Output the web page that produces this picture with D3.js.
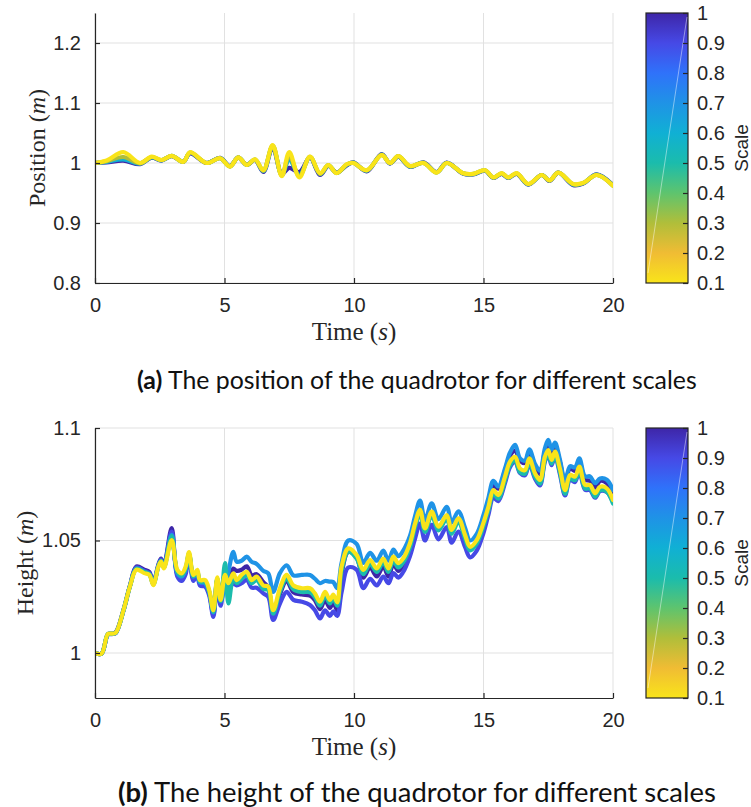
<!DOCTYPE html>
<html>
<head>
<meta charset="utf-8">
<script src="https://cdn.jsdelivr.net/npm/d3@7"></script>
<style>
body { margin: 0; background: #fff; }
svg { display: block; }
</style>
</head>
<body>
<svg width="751" height="807"></svg>
<script>
// ---- data -------------------------------------------------------------
var timeTicks = [0, 5, 10, 15, 20];
var posTicks = [0.8, 0.9, 1, 1.1, 1.2];
var heightTicks = [1, 1.05, 1.1];
var cbTicks = [0.1, 0.2, 0.3, 0.4, 0.5, 0.6, 0.7, 0.8, 0.9, 1];

// colour of each scale (parula, reversed)
var scaleStops = [1, 0.9, 0.8, 0.7, 0.6, 0.5, 0.4, 0.3, 0.2, 0.1];
var scaleColors = ["#3e26a8", "#4649e6", "#2f72fa", "#1f93e6", "#10b0d4",
                   "#1bbcac", "#5ec46e", "#b0be3a", "#f0bc34", "#f9e41a"];

// (a) position, sampled at its turning points
var tA = [0, 0.45, 1.09, 1.74, 2.19, 2.57, 2.96, 3.41, 3.67, 4.31,
          4.83, 5.21, 5.53, 5.86, 6.18, 6.5, 6.86, 7.21, 7.5, 7.89,
          8.3, 8.69, 9.01, 9.33, 9.72, 9.97, 10.49, 11.07, 11.39, 11.71,
          12.16, 12.68, 13.19, 13.58, 14.22, 14.6, 15.06, 15.38, 15.7, 15.96,
          16.28, 16.73, 17.25, 17.55, 17.89, 18.47, 18.86, 19.37, 20];
var pos10 = [1.000, 1.001, 1.004, 0.998, 1.009, 1.004, 1.0115, 1.002, 1.016, 1.000,
             1.0085, 0.995, 1.009, 0.997, 1.005, 0.985, 1.026, 0.982, 0.992, 0.985,
             1.009, 0.980, 0.995, 0.984, 0.996, 1.001, 0.986, 1.015, 0.999, 1.0105,
             0.9935, 1.001, 0.985, 1.0005, 0.982, 0.981, 0.987, 0.975, 0.982, 0.975,
             0.982, 0.964, 0.980, 0.970, 0.984, 0.963, 0.966, 0.981, 0.963];
var pos06 = [1.000, 1.002, 1.006, 0.999, 1.0095, 1.0045, 1.0118, 1.002, 1.017, 1.000,
             1.0082, 0.9945, 1.0093, 0.9968, 1.0055, 0.9865, 1.028, 0.980, 1.005, 0.980,
             1.0098, 0.9815, 0.996, 0.9835, 0.997, 1.0005, 0.987, 1.014, 0.9995, 1.011,
             0.994, 1.0005, 0.9845, 1.0002, 0.9825, 0.9815, 0.9875, 0.9755, 0.9825, 0.9755,
             0.9825, 0.9645, 0.980, 0.9705, 0.984, 0.964, 0.9665, 0.9805, 0.9625];
var pos03 = [1.000, 1.003, 1.010, 0.9995, 1.010, 1.0048, 1.012, 1.002, 1.0175, 1.000,
             1.008, 0.994, 1.0094, 0.9968, 1.0058, 0.9872, 1.029, 0.979, 1.012, 0.978,
             1.0102, 0.982, 0.9964, 0.9833, 0.9975, 1.0002, 0.9875, 1.0135, 0.9998, 1.0114,
             0.9945, 1.0002, 0.9842, 1.000, 0.9828, 0.9818, 0.9878, 0.9758, 0.9828, 0.9758,
             0.9828, 0.9648, 0.980, 0.9708, 0.984, 0.9645, 0.9668, 0.9802, 0.9622];
var pos01 = [1.000, 1.004, 1.018, 1.000, 1.0105, 1.005, 1.012, 1.002, 1.018, 1.000,
             1.008, 0.994, 1.0095, 0.9967, 1.006, 0.988, 1.030, 0.978, 1.018, 0.976,
             1.0105, 0.983, 0.9967, 0.983, 0.998, 1.000, 0.988, 1.013, 1.000, 1.0117,
             0.995, 1.000, 0.984, 1.000, 0.983, 0.982, 0.988, 0.976, 0.983, 0.976,
             0.983, 0.965, 0.980, 0.971, 0.984, 0.965, 0.967, 0.980, 0.962];

// (b) height
var tB = [0, 0.25, 0.5, 0.65, 0.8, 1.1, 1.35, 1.6, 1.9, 2.1,
          2.25, 2.45, 2.55, 2.66, 2.96, 3.18, 3.35, 3.5, 3.63, 3.8,
          3.95, 4.05, 4.25, 4.41, 4.57, 4.72, 4.85, 5.02, 5.15, 5.34,
          5.47, 5.66, 5.86, 6.05, 6.24, 6.5, 6.69, 6.88, 7.14, 7.4,
          7.66, 7.98, 8.3, 8.49, 8.69, 8.88, 9.07, 9.2, 9.35, 9.52,
          9.78, 10.1, 10.36, 10.62, 10.88, 11.13, 11.33, 11.52, 11.71, 11.9,
          12.16, 12.36, 12.55, 12.74, 13.0, 13.26, 13.58, 13.77, 14.03, 14.29,
          14.48, 14.74, 14.99, 15.19, 15.38, 15.57, 15.83, 16.02, 16.22, 16.41,
          16.6, 16.77, 16.99, 17.18, 17.37, 17.5, 17.63, 17.76, 17.95, 18.15,
          18.34, 18.53, 18.7, 18.92, 19.11, 19.31, 19.5, 19.76, 20];
var h10 = [1.000, 0.9997, 1.0084, 1.0086, 1.0092, 1.0192, 1.030, 1.0385, 1.037, 1.036,
           1.0315, 1.0395, 1.042, 1.039, 1.0555, 1.035, 1.0335, 1.0365, 1.0435, 1.033,
           1.0355, 1.031, 1.0305, 1.0265, 1.017, 1.0325, 1.0225, 1.035, 1.0325, 1.0375,
           1.0365, 1.037, 1.0385, 1.0345, 1.035, 1.0315, 1.029, 1.0165, 1.026, 1.032,
           1.027, 1.026, 1.0255, 1.0235, 1.0195, 1.0235, 1.020, 1.0225, 1.019, 1.035,
           1.045, 1.0425, 1.0335, 1.038, 1.034, 1.0385, 1.034, 1.0395, 1.0365, 1.039,
           1.0465, 1.056, 1.0635, 1.055, 1.0625, 1.0555, 1.0605, 1.054, 1.059, 1.0515,
           1.046, 1.0495, 1.058, 1.0665, 1.0745, 1.073, 1.081, 1.0875, 1.090, 1.0855,
           1.0845, 1.0895, 1.083, 1.0795, 1.0895, 1.0925, 1.088, 1.092, 1.085, 1.0755,
           1.082, 1.081, 1.085, 1.077, 1.0765, 1.0735, 1.0765, 1.0755, 1.0705];
var h09 = [1.000, 0.9997, 1.0082, 1.0084, 1.0088, 1.0188, 1.0298, 1.038, 1.0365, 1.0355,
           1.031, 1.039, 1.0415, 1.0385, 1.054, 1.034, 1.032, 1.035, 1.043, 1.032,
           1.035, 1.030, 1.0295, 1.0255, 1.016, 1.031, 1.021, 1.031, 1.0285, 1.031,
           1.030, 1.031, 1.0325, 1.029, 1.029, 1.0265, 1.025, 1.0147, 1.022, 1.0272,
           1.0236, 1.0228, 1.0213, 1.019, 1.0154, 1.019, 1.0165, 1.0185, 1.0165, 1.027,
           1.038, 1.037, 1.0288, 1.033, 1.030, 1.034, 1.031, 1.0355, 1.0335, 1.036,
           1.043, 1.051, 1.0575, 1.050, 1.057, 1.0505, 1.056, 1.049, 1.054, 1.047,
           1.0425, 1.0455, 1.053, 1.0615, 1.069, 1.0675, 1.0755, 1.0825, 1.085, 1.080,
           1.079, 1.084, 1.0775, 1.0745, 1.085, 1.088, 1.0835, 1.0875, 1.0795, 1.070,
           1.077, 1.076, 1.0805, 1.0725, 1.0725, 1.069, 1.072, 1.0715, 1.067];
var h07 = [1.000, 0.9997, 1.0083, 1.0085, 1.0089, 1.0189, 1.0297, 1.0375, 1.036, 1.035,
           1.0306, 1.0387, 1.041, 1.038, 1.0525, 1.0355, 1.034, 1.037, 1.044, 1.034,
           1.036, 1.0315, 1.031, 1.027, 1.018, 1.033, 1.023, 1.030, 1.036, 1.045,
           1.0406, 1.041, 1.0428, 1.0405, 1.0396, 1.0365, 1.0354, 1.0272, 1.0355, 1.039,
           1.0345, 1.0347, 1.0347, 1.033, 1.031, 1.032, 1.0317, 1.0315, 1.0288, 1.040,
           1.050, 1.0485, 1.040, 1.0445, 1.041, 1.0455, 1.041, 1.046, 1.043, 1.0455,
           1.052, 1.061, 1.0677, 1.059, 1.0665, 1.0595, 1.065, 1.058, 1.063, 1.0555,
           1.050, 1.053, 1.061, 1.069, 1.0765, 1.074, 1.082, 1.089, 1.0925, 1.0865,
           1.0855, 1.0905, 1.084, 1.081, 1.091, 1.0947, 1.0905, 1.0935, 1.086, 1.0765,
           1.083, 1.0825, 1.0865, 1.0785, 1.0785, 1.0755, 1.0776, 1.077, 1.0724];
var h05 = [1.000, 0.9997, 1.0085, 1.0086, 1.009, 1.019, 1.0297, 1.0375, 1.036, 1.035,
           1.0305, 1.0388, 1.041, 1.038, 1.052, 1.036, 1.0345, 1.0375, 1.0442, 1.034,
           1.0362, 1.0317, 1.0316, 1.0273, 1.0183, 1.033, 1.023, 1.040, 1.022, 1.0335,
           1.031, 1.033, 1.0345, 1.031, 1.0325, 1.0285, 1.028, 1.0175, 1.0272, 1.033,
           1.0283, 1.0271, 1.027, 1.0248, 1.021, 1.0255, 1.022, 1.0245, 1.021, 1.0365,
           1.045, 1.042, 1.035, 1.0395, 1.036, 1.0403, 1.036, 1.041, 1.038, 1.0403,
           1.047, 1.056, 1.062, 1.0538, 1.0612, 1.0545, 1.0597, 1.053, 1.0583, 1.0508,
           1.0456, 1.0486, 1.056, 1.0634, 1.0708, 1.0686, 1.0768, 1.0834, 1.0856, 1.0804,
           1.0797, 1.0849, 1.0783, 1.0753, 1.0856, 1.0886, 1.0842, 1.0879, 1.0804, 1.0708,
           1.0775, 1.0768, 1.0812, 1.0731, 1.0731, 1.0694, 1.0723, 1.0716, 1.0664];
var h01 = [1.000, 0.9997, 1.0085, 1.0086, 1.009, 1.019, 1.0296, 1.037, 1.0355, 1.0347,
           1.0302, 1.0384, 1.0406, 1.0376, 1.0502, 1.0369, 1.0354, 1.0384, 1.0448, 1.0347,
           1.037, 1.0324, 1.0324, 1.028, 1.019, 1.0336, 1.0236, 1.0347, 1.031, 1.0354,
           1.0324, 1.0347, 1.0361, 1.0324, 1.034, 1.030, 1.0295, 1.019, 1.0288, 1.0347,
           1.030, 1.0288, 1.0288, 1.0265, 1.0228, 1.0272, 1.0236, 1.026, 1.0225, 1.0384,
           1.0465, 1.0436, 1.0369, 1.0413, 1.0376, 1.042, 1.0376, 1.0428, 1.0399, 1.042,
           1.0488, 1.0576, 1.0636, 1.0554, 1.0628, 1.0561, 1.0613, 1.0547, 1.0599, 1.0524,
           1.0472, 1.0502, 1.0576, 1.065, 1.0724, 1.0702, 1.0784, 1.085, 1.0872, 1.082,
           1.0813, 1.0865, 1.0799, 1.0769, 1.0872, 1.0902, 1.0858, 1.0895, 1.082, 1.0724,
           1.0791, 1.0784, 1.0828, 1.0747, 1.0747, 1.071, 1.0739, 1.0732, 1.068];

// ---- drawing ----------------------------------------------------------
var svg = d3.select("svg");
var ink = "#262626";
var sans = "'Liberation Sans', Arial, Helvetica, sans-serif";
var serif = "'Liberation Serif', 'Times New Roman', serif";

var scaleColor = d3.scaleLinear().domain(scaleStops).range(scaleColors);

var x = d3.scaleLinear().domain([0, 20]).range([95, 613]);

function styleAxis(a) {
  a.select(".domain").style("stroke", ink).style("stroke-width", 1.2);
  a.selectAll(".tick line").style("stroke", ink).style("stroke-width", 1.2);
  a.selectAll(".tick text").style("font-family", sans).style("font-size", "20px").style("fill", ink);
}

function fitText(t, width) {
  var w = t.node().getComputedTextLength();
  var fs = parseFloat(t.style("font-size"));
  t.style("font-size", (fs * width / w) + "px");
}

function drawPanel(p) {
  var y = d3.scaleLinear().domain(p.yDomain).range([p.bottom, p.top]);
  var g = svg.append("g");

  // grid
  g.selectAll(".gx").data(timeTicks).enter().append("line")
   .attr("x1", function(d) { return x(d); })
   .attr("x2", function(d) { return x(d); })
   .attr("y1", p.top).attr("y2", p.bottom)
   .style("stroke", "#e1e1e1").style("stroke-width", 1);
  g.selectAll(".gy").data(p.yTicks).enter().append("line")
   .attr("x1", x(0)).attr("x2", x(20))
   .attr("y1", function(d) { return y(d); })
   .attr("y2", function(d) { return y(d); })
   .style("stroke", "#e1e1e1").style("stroke-width", 1);

  svg.append("clipPath").attr("id", "clip" + p.id)
     .append("rect")
     .attr("x", x(0)).attr("y", p.top)
     .attr("width", x(20) - x(0)).attr("height", p.bottom - p.top);

  var line = d3.line()
    .curve(d3.curveCatmullRom.alpha(0.5))
    .x(function(d, i) { return x(p.times[i]); })
    .y(function(d) { return y(d); });

  p.series.forEach(function(s) {
    g.append("path")
     .datum(s.values)
     .attr("d", line)
     .attr("clip-path", "url(#clip" + p.id + ")")
     .style("fill", "none")
     .style("stroke", scaleColor(s.scale))
     .style("stroke-width", 4.2)
     .style("stroke-linejoin", "round")
     .style("stroke-linecap", "round");
  });

  var ax = g.append("g")
    .attr("transform", "translate(0," + p.bottom + ")")
    .call(d3.axisBottom(x).tickValues(timeTicks).tickSizeInner(-5).tickSizeOuter(0).tickPadding(15));
  styleAxis(ax);
  var ay = g.append("g")
    .attr("transform", "translate(" + x(0) + ",0)")
    .call(d3.axisLeft(y).tickValues(p.yTicks).tickFormat(d3.format("~g")).tickSizeInner(-5).tickSizeOuter(0).tickPadding(14));
  styleAxis(ay);

  // axis labels
  var xl = g.append("text")
   .attr("x", (x(0) + x(20)) / 2)
   .attr("y", p.bottom + 57)
   .attr("text-anchor", "middle")
   .style("font-family", serif).style("font-size", "25px").style("fill", ink);
  xl.append("tspan").text("Time (");
  xl.append("tspan").style("font-style", "italic").text("s");
  xl.append("tspan").text(")");

  var yl = g.append("text")
   .attr("transform", "translate(" + p.ylabelX + "," + (p.top + p.bottom) / 2 + ") rotate(-90)")
   .attr("dy", "0.35em")
   .attr("text-anchor", "middle")
   .style("font-family", serif).style("font-size", "24px").style("fill", ink);
  yl.append("tspan").text(p.ylabel + " (");
  yl.append("tspan").style("font-style", "italic").text("m");
  yl.append("tspan").text(")");

  // colorbar
  var cb = d3.scaleLinear().domain([0.1, 1]).range([p.bottom, p.top]);
  var grad = svg.append("defs").append("linearGradient")
    .attr("id", "grad" + p.id)
    .attr("x1", 0).attr("y1", 1).attr("x2", 0).attr("y2", 0);
  grad.selectAll("stop").data(cbTicks).enter().append("stop")
    .attr("offset", function(d) { return (p.bottom - cb(d)) / (p.bottom - p.top); })
    .attr("stop-color", function(d) { return scaleColor(d); });
  g.append("rect")
   .attr("x", 646).attr("y", p.top)
   .attr("width", 42).attr("height", p.bottom - p.top)
   .style("fill", "url(#grad" + p.id + ")")
   .style("stroke", ink).style("stroke-width", 1.2);
  g.append("line")
   .attr("x1", 648).attr("y1", p.bottom - 10)
   .attr("x2", 687).attr("y2", p.top + 4)
   .style("stroke", "#fff").style("stroke-opacity", 0.45).style("stroke-width", 1);
  var ac = g.append("g")
    .attr("transform", "translate(688,0)")
    .call(d3.axisRight(cb).tickValues(cbTicks).tickFormat(d3.format("~g")).tickSizeInner(-5).tickSizeOuter(0).tickPadding(9));
  styleAxis(ac);
  ac.select(".domain").remove();

  g.append("text")
   .attr("transform", "translate(741," + (p.top + p.bottom) / 2 + ") rotate(-90)")
   .attr("dy", "0.35em")
   .attr("text-anchor", "middle")
   .style("font-family", sans).style("font-size", "19px").style("fill", ink)
   .text("Scale");

  // caption
  var cap = svg.append("text")
   .attr("x", p.capX).attr("y", p.capY)
   .style("font-family", "Lato, 'DejaVu Sans', sans-serif").style("font-size", "20px").style("fill", "#111");
  cap.append("tspan").style("font-weight", "bold").text(p.capTag);
  cap.append("tspan").text(" " + p.caption);
  fitText(cap, p.capW);
}

drawPanel({
  id: "a", top: 13, bottom: 283, yDomain: [0.8, 1.25], yTicks: posTicks,
  times: tA,
  series: [{ scale: 1, values: pos10 }, { scale: 0.6, values: pos06 },
           { scale: 0.3, values: pos03 }, { scale: 0.1, values: pos01 }],
  ylabel: "Position", ylabelX: 37,
  capTag: "(a)", caption: "The position of the quadrotor for different scales",
  capX: 137, capY: 389, capW: 560
});

drawPanel({
  id: "b", top: 428, bottom: 698, yDomain: [0.98, 1.1], yTicks: heightTicks,
  times: tB,
  series: [{ scale: 1, values: h10 }, { scale: 0.9, values: h09 },
           { scale: 0.7, values: h07 }, { scale: 0.5, values: h05 },
           { scale: 0.1, values: h01 }],
  ylabel: "Height", ylabelX: 25,
  capTag: "(b)", caption: "The height of the quadrotor for different scales",
  capX: 118, capY: 802, capW: 598
});
</script>
</body>
</html>
